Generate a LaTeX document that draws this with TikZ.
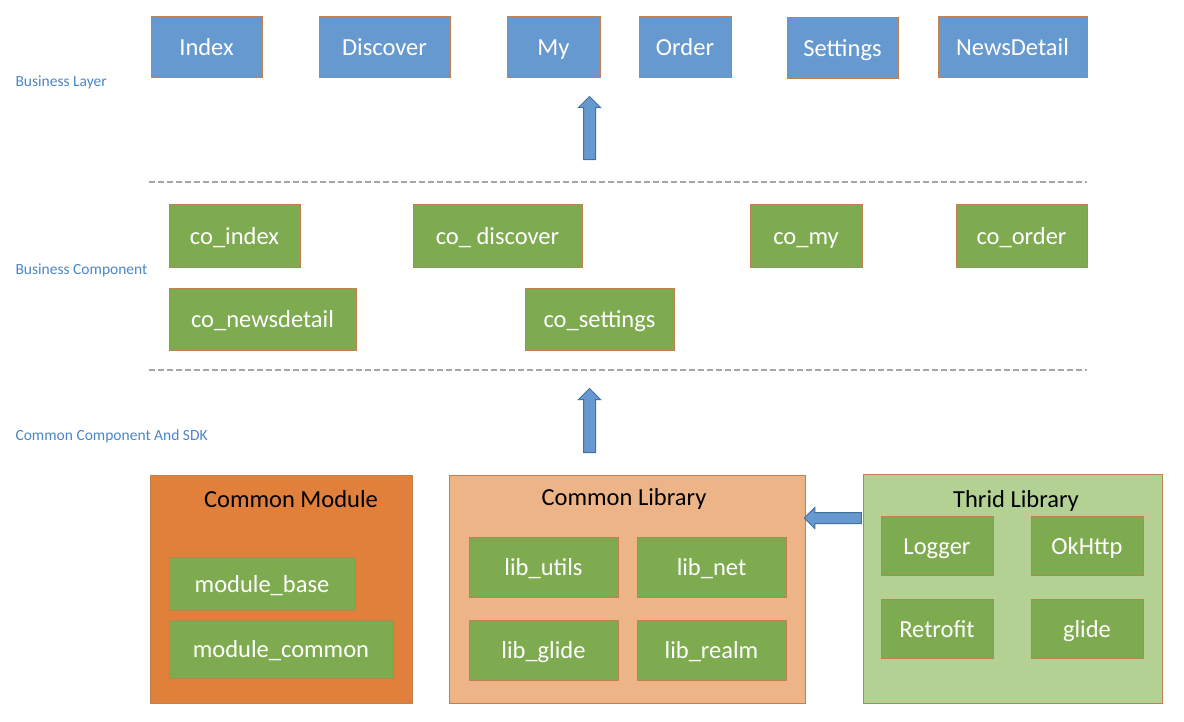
\documentclass[tikz,border=0pt]{standalone}
\usepackage{fontspec}
\setmainfont{Carlito}
\usepackage{tikz}
\usetikzlibrary{shapes.arrows,positioning}
\usepackage{xcolor}
\definecolor{bizblue}{HTML}{6699CF}
\definecolor{compgreen}{HTML}{7EAB50}
\definecolor{boxedge}{HTML}{C08050}
\definecolor{modorange}{HTML}{E0803A}
\definecolor{libpeach}{HTML}{EDB488}
\definecolor{thirdgreen}{HTML}{B3D193}
\definecolor{arrowedge}{HTML}{41719C}
\definecolor{layerblue}{HTML}{4A86C8}
\definecolor{dashgray}{HTML}{A6A6A6}
\tikzset{%
  % Specifications for style of nodes:
            base/.style = {rectangle, draw=boxedge, line width=0.8pt,
                           inner sep=0pt, text centered,
                           text height=22pt, text depth=5pt,
                           font=\fontsize{24.5}{29}\selectfont},
          bizbox/.style = {base, fill=bizblue, text=white},
         compbox/.style = {base, fill=compgreen, text=white},
       container/.style = {base, line width=1pt},
      layerlabel/.style = {anchor=west, text=layerblue,
                           font=\fontsize{15.5}{18}\selectfont},
      blockarrow/.style = {single arrow, draw=arrowedge, fill=bizblue,
                           line width=1pt, inner xsep=0pt, inner ysep=5.5pt,
                           single arrow head extend=5pt},
       layerline/.style = {draw=dashgray, line width=1.5pt,
                           dash pattern=on 6pt off 3pt},
}
\begin{document}
\begin{tikzpicture}[x=1pt, y=-1pt]
  \useasboundingbox (0,0) rectangle (1184,721);
  % Layer names on the left
  \node (bizlayer) [layerlabel] at (12,82)  {Business Layer};
  \node (bizcomp)  [layerlabel] at (12,270) {Business Component};
  \node (common)   [layerlabel] at (12,436) {Common Component And SDK};
  % Business layer
  \node (index)      [bizbox, minimum width=111, minimum height=61] at (206.5,46.5) {Index};
  \node (discover)   [bizbox, minimum width=131, minimum height=61] at (384.5,46.5) {Discover};
  \node (my)         [bizbox, minimum width=93,  minimum height=61] at (553.5,46.5) {My};
  \node (order)      [bizbox, minimum width=92,  minimum height=61] at (685,46.5)   {Order};
  \node (settings)   [bizbox, minimum width=111, minimum height=61] at (842.5,47.5) {Settings};
  \node (newsdetail) [bizbox, minimum width=149, minimum height=61] at (1012.5,46.5) {NewsDetail};
  % Separating lines
  \coordinate (sepa) at (149,182);
  \coordinate (sepb) at (1087,182);
  \coordinate (sepc) at (149,370);
  \coordinate (sepd) at (1087,370);
  \draw[layerline] (sepa) -- (sepb);
  \draw[layerline] (sepc) -- (sepd);
  % Business components
  \node (coindex)      [compbox, minimum width=131, minimum height=63] at (234.5,235.5) {co\_index};
  \node (codiscover)   [compbox, minimum width=169, minimum height=63] at (497.5,235.5) {co\_ discover};
  \node (comy)         [compbox, minimum width=112, minimum height=63] at (806,235.5)   {co\_my};
  \node (coorder)      [compbox, minimum width=131, minimum height=63] at (1021.5,235.5) {co\_order};
  \node (conewsdetail) [compbox, minimum width=187, minimum height=62] at (262.5,319)  {co\_newsdetail};
  \node (cosettings)   [compbox, minimum width=149, minimum height=62] at (599.5,319)  {co\_settings};
  % Common components and SDK
  \node (commonmodule) [container, fill=modorange,  minimum width=262, minimum height=228] at (281,589) {};
  \node (commonlib)    [container, fill=libpeach,   minimum width=356, minimum height=228] at (627,589) {};
  \node (thirdlib)     [container, fill=thirdgreen, minimum width=299, minimum height=229] at (1012.5,588.5) {};
  \node (modtitle)   [font=\fontsize{24.5}{29}\selectfont] at (291,499)  {Common Module};
  \node (libtitle)   [font=\fontsize{24.5}{29}\selectfont] at (624,499)  {Common Library};
  \node (thirdtitle) [font=\fontsize{24.5}{29}\selectfont] at (1016,501) {Thrid Library};
  \node (modulebase)   [compbox, minimum width=186, minimum height=53] at (262,583.5) {module\_base};
  \node (modulecommon) [compbox, minimum width=224, minimum height=58] at (281,649)   {module\_common};
  \node (libutils) [compbox, minimum width=149, minimum height=60] at (543.5,567) {lib\_utils};
  \node (libnet)   [compbox, minimum width=149, minimum height=60] at (711.5,567) {lib\_net};
  \node (libglide) [compbox, minimum width=149, minimum height=60] at (543.5,650) {lib\_glide};
  \node (librealm) [compbox, minimum width=149, minimum height=60] at (711.5,650) {lib\_realm};
  \node (logger)   [compbox, minimum width=112, minimum height=59] at (937,545.5)  {Logger};
  \node (okhttp)   [compbox, minimum width=112, minimum height=59] at (1087,545.5) {OkHttp};
  \node (retrofit) [compbox, minimum width=112, minimum height=59] at (937,628.5)  {Retrofit};
  \node (glide)    [compbox, minimum width=112, minimum height=59] at (1087,628.5) {glide};
  % Block arrows between the layers
  \node (uparrowa) [blockarrow, rotate=90,  minimum height=63] at (589.5,131)   {};
  \node (uparrowb) [blockarrow, rotate=90,  minimum height=64] at (589.5,423.5) {};
  \node (leftarrow) [blockarrow, rotate=180, minimum height=57, inner ysep=5pt] at (835.5,518) {};
\end{tikzpicture}
\end{document}
